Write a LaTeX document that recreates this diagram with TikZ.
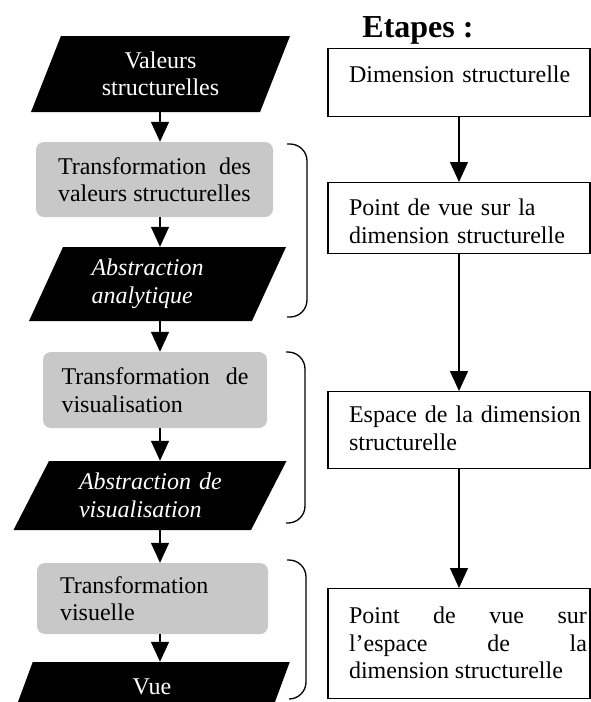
\documentclass[tikz,border=0pt]{standalone}
\usepackage{fontspec}
\setmainfont{Liberation Serif}
\usetikzlibrary{arrows.meta,shapes.geometric}
\definecolor{boxgray}{RGB}{200,200,200}
\hyphenpenalty=10000
\tikzset{
  flow/.style={line width=1.3pt,-{Triangle[length=20pt,width=18pt]}},
  datapara/.style={trapezium,trapezium stretches body,fill=black,text=white,inner sep=0pt},
  abstpara/.style={datapara,align=left,font=\fontsize{24}{27.5}\selectfont\itshape},
  transbox/.style={rectangle,rounded corners=8pt,fill=boxgray,inner sep=0pt},
  stepbox/.style={rectangle,draw,line width=1.3pt,minimum width=262pt,text width=256pt,
    inner xsep=3pt,inner ysep=0pt,anchor=north,execute at begin node={\leftskip=18pt}},
  bracket/.style={line width=1.3pt,rounded corners=17pt}
}
\begin{document}
\begin{tikzpicture}[x=1pt,y=-1pt,font=\fontsize{24}{27.5}\selectfont]
\useasboundingbox (0,0) rectangle (591,702);
\clip (0,0) rectangle (591,702);
\coordinate (axe) at (160,0);
\node[datapara,trapezium left angle=56,trapezium right angle=124,minimum width=259pt,minimum height=76pt,align=center] (valeurs) at (160.5,74) {Valeurs\\structurelles};
\node[transbox,minimum width=237pt,minimum height=75pt,text width=193pt,align=justify] (transval) at (154.5,179.5) {Transformation des\linebreak valeurs structurelles};
\node[abstpara,trapezium left angle=55.4,trapezium right angle=124.6,minimum width=257pt,minimum height=74pt,text width=132pt] (abstana) at (157.5,284) {Abstraction\\analytique};
\node[transbox,minimum width=224pt,minimum height=76pt,text width=187pt,align=justify] (transvis) at (155,390) {Transformation de\linebreak visualisation};
\node[abstpara,trapezium left angle=51.4,trapezium right angle=128.6,minimum width=273pt,minimum height=69pt,text width=142pt] (abstvis) at (150,495.5) {\mbox{Abstraction de}\\visualisation};
\node[transbox,minimum width=231pt,minimum height=71pt,text width=185pt,align=left] (transvue) at (152.5,598.5) {Transformation\\visuelle};
\node[datapara,trapezium left angle=41,trapezium right angle=139,minimum width=275.5pt,minimum height=50pt] (vue) at (152,687) {Vue};
\draw[flow] (axe |- valeurs.south) -- (axe |- transval.north);
\draw[flow] (axe |- transval.south) -- (axe |- abstana.north);
\draw[flow] (axe |- abstana.south) -- (axe |- transvis.north);
\draw[flow] (axe |- transvis.south) -- (axe |- abstvis.north);
\draw[flow] (axe |- abstvis.south) -- (axe |- transvue.north);
\draw[flow] (axe |- transvue.south) -- (axe |- vue.north);
\draw[bracket] (287,144) -- (307,144) -- (307,317) -- (287,317);
\draw[bracket] (286,352) -- (305,352) -- (305,523) -- (286,523);
\draw[bracket] (287,560) -- (306,560) -- (306,699) -- (289,699);
\node[anchor=base,font=\fontsize{32}{36}\selectfont\bfseries] (etapes) at (418,37) {Etapes :};
\node[stepbox,align=left,text height=34pt,text depth=34pt] (dimstruct) at (459,48) {Dimension structurelle};
\node[stepbox,align=left,text height=33pt,text depth=38pt] (pdvdim) at (459,182) {Point de vue sur la\\dimension structurelle};
\node[stepbox,align=left,text height=31pt,text depth=46pt] (espace) at (459,391) {\mbox{Espace\ de la dimension}\\structurelle};
\node[stepbox,align=justify,text height=35pt,text depth=75pt] (pdvesp) at (459,588) {Point de vue sur\linebreak l’espace de la\linebreak dimension structurelle};
\draw[flow] (dimstruct.south) -- (pdvdim.north);
\draw[flow] (pdvdim.south) -- (espace.north);
\draw[flow] (espace.south) -- (pdvesp.north);
\end{tikzpicture}
\end{document}
